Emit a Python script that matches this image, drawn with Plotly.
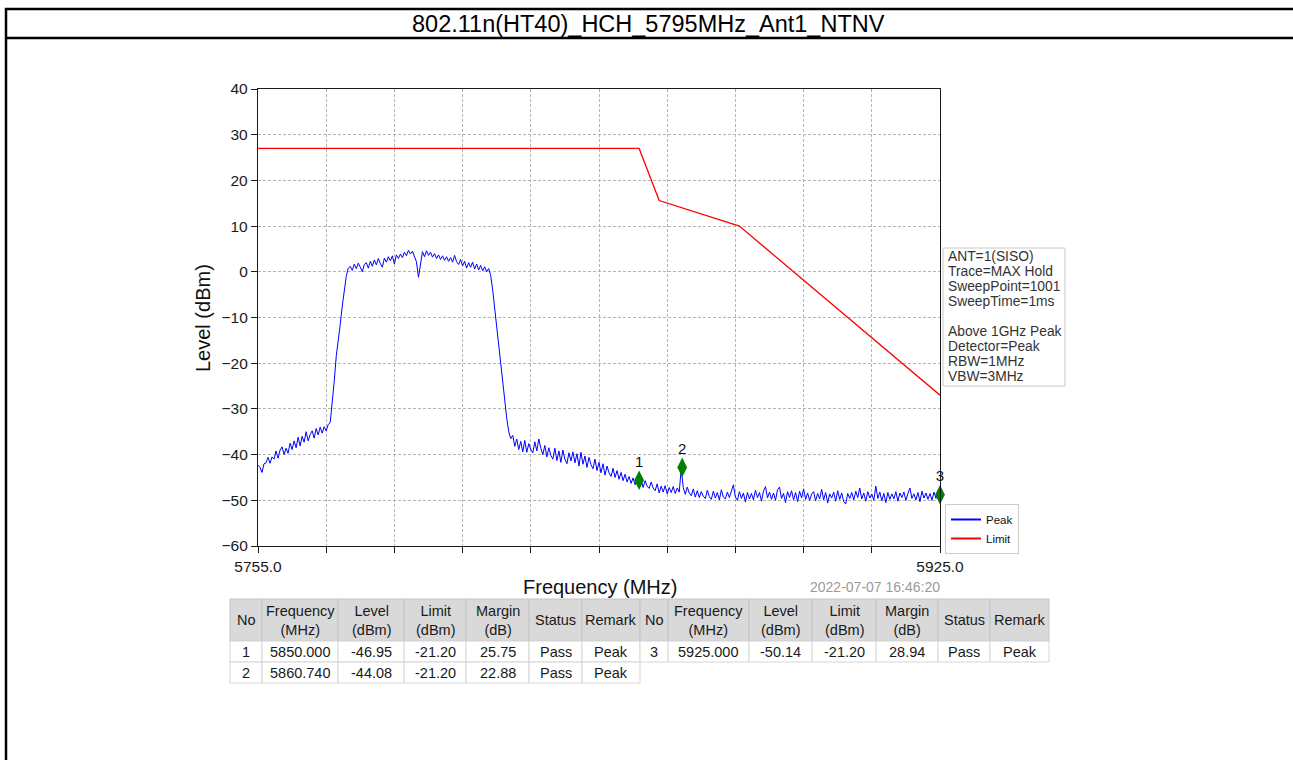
import numpy as np
import plotly.graph_objects as go

W, H = 1293, 760

# ---------------- data ----------------
title_text = "802.11n(HT40)_HCH_5795MHz_Ant1_NTNV"
sweep_start, sweep_stop = 5755.0, 5925.0

peak_level = [
    # 5755.0 - 5772.5
    -42.3, -42.8, -43.9, -42.0, -41.8, -40.6, -41.9, -40.5, -41.0, -39.2,
    -40.8, -39.0, -38.3, -40.0, -38.6, -39.7, -37.5, -38.9, -37.0, -38.5,
    -36.2, -38.1, -36.0, -37.3, -35.0, -37.0, -35.6, -34.8, -36.4, -34.3,
    -35.7, -34.0, -35.3, -33.9, -34.8, -33.4,
    # 5773.0 - 5777.5
    -33.0, -29.0, -24.0, -18.5, -15.5, -11.5, -7.5, -4.0, -1.0, 0.8,
    # 5778.0 - 5813.0
    1.2, 0.3, 1.7, 0.7, 1.9, 1.0, 0.0, 1.6, 2.0, 0.8,
    2.3, 1.2, 2.6, 1.5, 2.9, 1.8, 1.0, 3.0, 2.1, 3.3,
    2.4, 3.5, 1.7, 3.7, 2.9, 3.9, 3.1, 4.3, 3.5, 4.7,
    3.9, 4.5, 3.4, 2.2, -1.2, 2.0, 4.4, 3.3, 4.6, 3.6,
    4.3, 3.2, 4.0, 2.9, 3.7, 2.7, 3.5, 2.5, 3.3, 2.3,
    3.1, 2.1, 3.6, 2.2, 1.6, 2.7, 1.3, 2.3, 0.8, 2.0,
    1.0, 2.1, 0.6, 1.7, 0.4, 1.4, 0.2, 1.1, 0.0, 0.7,
    -0.8,
    # 5813.5 - 5818.0
    -4.0, -8.0, -11.5, -17.0, -21.0, -25.0, -28.5, -32.0, -35.0, -36.5,
    # 5818.5 - 5925.0
    -35.8, -38.2, -36.6, -38.9, -37.1, -39.4, -36.9, -39.5, -37.6, -38.9,
    -39.6, -37.2, -39.2, -36.6, -38.6, -40.0, -38.0, -40.5, -38.5, -40.2,
    -41.0, -38.6, -41.3, -39.2, -41.7, -39.0, -41.0, -42.0, -39.6, -41.4,
    -39.4, -41.8, -39.8, -42.5, -39.5, -42.1, -40.3, -42.8, -40.6, -42.2,
    -43.1, -41.0, -43.5, -41.7, -44.0, -42.0, -44.5, -42.5, -44.0, -44.8,
    -43.0, -45.0, -43.5, -45.4, -43.9, -45.7, -44.3, -46.0, -44.8, -46.3,
    -45.1, -46.6, -45.5, -46.8, -45.6, -47.2, -45.7, -46.9, -47.4, -46.0,
    -47.3, -47.9, -46.4, -48.4, -46.9, -48.2, -46.8, -48.6, -47.2, -48.3,
    -47.0, -48.5, -47.3, -48.2, -43.0, -47.2, -48.7, -47.1, -48.4, -49.0,
    -47.5, -49.3, -47.9, -49.4, -48.1, -49.1, -49.6, -47.8, -49.2, -49.8,
    -48.0, -49.5, -48.3, -49.9, -47.7, -49.3, -49.7, -48.2, -49.4, -47.9,
    -46.6, -49.3, -50.0, -48.1, -49.6, -48.4, -50.4, -48.3, -49.7, -48.5,
    -49.9, -47.8, -49.4, -48.3, -50.2, -48.0, -47.0, -49.5, -48.2, -49.8,
    -48.4, -50.0, -47.7, -47.1, -49.6, -48.5, -50.5, -48.1, -49.4, -47.9,
    -49.9, -48.3, -50.3, -48.0, -49.5, -47.5, -49.8, -48.4, -50.0, -48.6,
    -48.1, -50.1, -48.5, -49.7, -47.6, -49.9, -48.3, -50.6, -48.6, -49.5,
    -48.2, -50.2, -47.9, -49.8, -48.4, -50.3, -50.8, -48.5, -49.6, -48.3,
    -49.9, -48.0, -49.4, -47.3, -49.7, -48.4, -50.2, -48.1, -49.5, -48.6,
    -50.0, -46.9, -49.6, -48.2, -50.1, -48.5, -50.5, -48.3, -49.8, -48.6,
    -49.7, -48.1, -50.2, -48.4, -49.4, -48.2, -50.0, -48.5, -47.3, -49.6,
    -48.6, -49.9, -48.3, -50.3, -48.0, -49.5, -48.4, -49.8, -48.5, -50.0,
    -48.2, -49.6, -47.8, -48.8,
]

limit_freq = [5755.0, 5850.0, 5855.0, 5875.0, 5925.0]
limit_level = [27.0, 27.0, 15.6, 10.0, -27.0]

marker_no = ["1", "2", "3"]
marker_freq = [5850.0, 5860.74, 5925.0]
marker_level = [-45.6, -42.8, -48.8]

x_tick_step = 17.0
y_ticks = [-60, -50, -40, -30, -20, -10, 0, 10, 20, 30, 40]

info_lines = ["ANT=1(SISO)", "Trace=MAX Hold", "SweepPoint=1001", "SweepTime=1ms", "",
              "Above 1GHz Peak", "Detector=Peak", "RBW=1MHz", "VBW=3MHz"]
timestamp = "2022-07-07 16:46:20"

tbl_header = ["No", "Frequency<br>(MHz)", "Level<br>(dBm)", "Limit<br>(dBm)",
              "Margin<br>(dB)", "Status", "Remark"]
tbl_no = [1, 2, 3]
tbl_freq = [5850.000, 5860.740, 5925.000]
tbl_level = [-46.95, -44.08, -50.14]
tbl_limit = [-21.20, -21.20, -21.20]
tbl_margin = [25.75, 22.88, 28.94]
tbl_status = ["Pass", "Pass", "Pass"]
tbl_remark = ["Peak", "Peak", "Peak"]

# ---------------- figure ----------------
FONT = "Arial, 'Liberation Sans', sans-serif"
freq = np.linspace(sweep_start, sweep_stop, len(peak_level))
PEAK_COLOR, LIMIT_COLOR = "#0000ff", "#ff0000"

def px(x):
    return x / W

def py(y):
    return 1 - y / H

fig = go.Figure()
fig.add_trace(go.Scatter(x=freq, y=peak_level, mode="lines", name="Peak", showlegend=False,
                         line=dict(color=PEAK_COLOR, width=1)))
fig.add_trace(go.Scatter(x=limit_freq, y=limit_level, mode="lines", name="Limit", showlegend=False,
                         line=dict(color=LIMIT_COLOR, width=1.3)))
fig.add_trace(go.Scatter(x=marker_freq, y=marker_level, mode="markers+text",
                         text=marker_no, textposition="top center",
                         textfont=dict(size=15, color="#111111", family=FONT),
                         marker=dict(symbol="diamond-tall", size=14, color="#008000"),
                         showlegend=False, cliponaxis=False))
# legend entries (thicker sample lines like the reference legend)
fig.add_trace(go.Scatter(x=[None], y=[None], mode="lines", name="Peak",
                         line=dict(color=PEAK_COLOR, width=2)))
fig.add_trace(go.Scatter(x=[None], y=[None], mode="lines", name="Limit",
                         line=dict(color=LIMIT_COLOR, width=2)))

x_tickvals = list(np.arange(sweep_start, sweep_stop + 0.1, x_tick_step))
x_ticktext = [f"{v:.1f}" if (v == sweep_start or abs(v - sweep_stop) < 1e-6) else ""
              for v in x_tickvals]

axis_common = dict(showline=True, linecolor="#1a1a1a", linewidth=1.3, mirror=True,
                   ticks="outside", ticklen=6, tickcolor="#1a1a1a",
                   showgrid=True, gridcolor="#b4b4b4", griddash="3px,2px", gridwidth=1,
                   zeroline=False, tickfont=dict(size=15.5, color="#1a1a1a", family=FONT))

fig.update_layout(
    width=W, height=H, margin=dict(l=0, r=0, t=0, b=0, pad=0, autoexpand=False),
    paper_bgcolor="white", plot_bgcolor="white",
    font=dict(family=FONT),
    xaxis=dict(domain=[px(258), px(940)], range=[sweep_start, sweep_stop],
               tickvals=x_tickvals, ticktext=x_ticktext, **axis_common),
    yaxis=dict(domain=[py(546), py(89)], range=[-60, 40], tickvals=y_ticks, **axis_common),
    legend=dict(x=px(945), y=py(504), xanchor="left", yanchor="top",
                bordercolor="#cccccc", borderwidth=1, bgcolor="white",
                font=dict(size=11.5, color="#111111", family=FONT),
                tracegroupgap=0, itemwidth=30),
    showlegend=True,
)

annotations = [
    dict(text=title_text, x=px(648), y=py(24), xref="paper", yref="paper",
         xanchor="center", yanchor="middle", showarrow=False,
         font=dict(size=23.5, color="#000000", family=FONT)),
    dict(text="Level (dBm)", x=px(203), y=py(318), xref="paper", yref="paper",
         xanchor="center", yanchor="middle", textangle=-90, showarrow=False,
         font=dict(size=20, color="#111111", family=FONT)),
    dict(text="Frequency (MHz)", x=px(600), y=py(587), xref="paper", yref="paper",
         xanchor="center", yanchor="middle", showarrow=False,
         font=dict(size=20, color="#111111", family=FONT)),
    dict(text=timestamp, x=px(942), y=py(587), xref="paper", yref="paper",
         xanchor="right", yanchor="middle", showarrow=False,
         font=dict(size=14, color="#9a9a9a", family=FONT)),
]
for i, line in enumerate(info_lines):
    if line:
        annotations.append(dict(text=line, x=px(946), y=py(256.7 + 15.0 * i),
                                xref="paper", yref="paper", xanchor="left", yanchor="middle",
                                showarrow=False,
                                font=dict(size=13.8, color="#333333", family=FONT)))

shapes = [
    # page frame: top edge, title separator and left edge (right/bottom run off the page)
    dict(type="path", xref="paper", yref="paper",
         path=f"M {px(W + 10)},{py(9)} L {px(6)},{py(9)} L {px(6)},{py(H + 10)}",
         line=dict(color="black", width=2.5)),
    dict(type="line", xref="paper", yref="paper", x0=px(6), x1=px(W + 10), y0=py(38), y1=py(38),
         line=dict(color="black", width=2.5)),
    dict(type="rect", xref="paper", yref="paper", x0=px(943), x1=px(1065), y0=py(248), y1=py(386),
         line=dict(color="#c8c8c8", width=1), fillcolor="rgba(255,255,255,0)"),
]

# ---- result tables (drawn as cells) ----
def table_cols(rows):
    return [
        [str(tbl_no[r]) for r in rows],
        [f"{tbl_freq[r]:.3f}" for r in rows],
        [f"{tbl_level[r]:.2f}" for r in rows],
        [f"{tbl_limit[r]:.2f}" for r in rows],
        [f"{tbl_margin[r]:.2f}" for r in rows],
        [tbl_status[r] for r in rows],
        [tbl_remark[r] for r in rows],
    ]

tbl_top, hdr_h, row_h = 599, 42, 21
tbl_font = dict(size=14.5, color="#1a1a1a", family=FONT)
for rows, x_start, widths in [([0, 1], 230, [32, 76, 66, 62, 63, 53, 58]),
                              ([2], 640, [28, 81, 63, 64, 62, 52, 59])]:
    cols = table_cols(rows)
    xl = x_start
    for c, w in enumerate(widths):
        xr = xl + w
        shapes.append(dict(type="rect", xref="paper", yref="paper", layer="below",
                           x0=px(xl), x1=px(xr), y0=py(tbl_top), y1=py(tbl_top + hdr_h),
                           fillcolor="#d9d9d9", line=dict(color="#c4c4c4", width=1)))
        annotations.append(dict(text=tbl_header[c], x=px((xl + xr) / 2), y=py(tbl_top + hdr_h / 2),
                                xref="paper", yref="paper", xanchor="center", yanchor="middle",
                                showarrow=False, font=tbl_font))
        for r, val in enumerate(cols[c]):
            y0 = tbl_top + hdr_h + r * row_h
            shapes.append(dict(type="rect", xref="paper", yref="paper", layer="below",
                               x0=px(xl), x1=px(xr), y0=py(y0), y1=py(y0 + row_h),
                               fillcolor="white", line=dict(color="#d6d6d6", width=1)))
            annotations.append(dict(text=val, x=px((xl + xr) / 2), y=py(y0 + row_h / 2),
                                    xref="paper", yref="paper", xanchor="center", yanchor="middle",
                                    showarrow=False, font=tbl_font))
        xl = xr

fig.update_layout(annotations=annotations, shapes=shapes)

fig.write_html("out.html", config={"displayModeBar": False},
               post_script="document.body.style.margin='0';document.body.style.overflow='hidden';")
